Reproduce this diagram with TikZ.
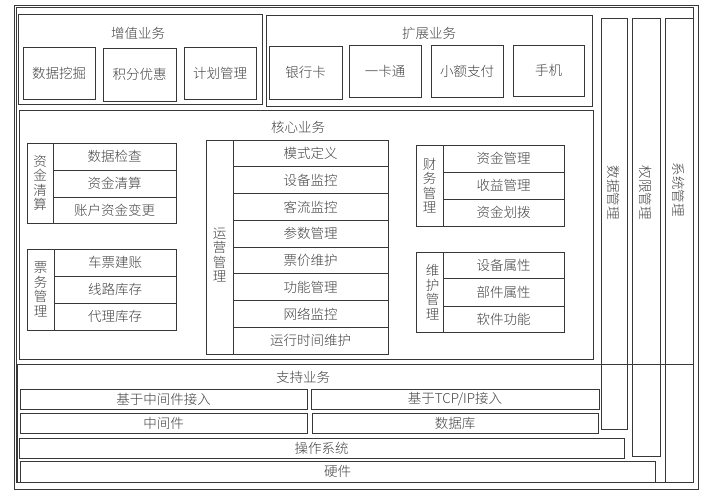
\documentclass[tikz,border=0pt]{standalone}
\usepackage{fontspec}
\newfontfamily\cjk{Noto Sans CJK SC Light}
\tikzset{
  box/.style={draw=black!78,line width=0.9pt,inner sep=0pt,outer sep=0pt,align=center,
    font=\cjk\fontsize{13.5}{15}\selectfont,text=black!75},
  vlab/.style={inner sep=0pt,align=center,font=\cjk\fontsize{13.5}{14.5}\selectfont,text=black!75},
  ttl/.style={inner sep=0pt,font=\cjk\fontsize{13.5}{15}\selectfont,text=black!75}
}
\newcommand\bx[6]{\node[box,minimum width={#4-#2},minimum height={#5-#3}] (#1) at ({(#2+#4)/2},{(#3+#5)/2}) {#6};}
\begin{document}
\begin{tikzpicture}[x=1pt,y=-1pt]
\useasboundingbox (0,0) rectangle (722,497);
% frames
\bx{outer}{14}{5}{698}{489}{}
\bx{inner}{16}{7}{693}{482}{}
% value-added
\bx{zz}{18}{14}{262}{104}{}
\node[ttl] (zzt) at (138,33) {增值业务};
\bx{wj}{23}{47}{95}{99}{数据挖掘}
\bx{jf}{103}{48}{176}{101}{积分优惠}
\bx{jh}{184}{47}{256}{99}{计划管理}
% extension
\bx{kz}{266}{15}{592}{106}{}
\node[ttl] (kzt) at (429,33) {扩展业务};
\bx{yhk}{269}{46}{342}{99}{银行卡}
\bx{ykt}{349}{45}{421}{97}{一卡通}
\bx{xe}{431}{45}{503}{97}{小额支付}
\bx{sj}{513}{45}{584}{96}{手机}
% core
\bx{core}{19}{110}{593}{359}{}
\node[ttl] (coret) at (298,127) {核心业务};
% 资金清算
\bx{zjqs}{27}{143}{53}{223}{}
\node[vlab] at (zjqs.center) {资\\金\\清\\算};
\bx{z1}{53}{143}{176}{170}{数据检查}
\bx{z2}{53}{170}{176}{197}{资金清算}
\bx{z3}{53}{197}{176}{223}{账户资金变更}
% 票务管理
\bx{pw}{27}{249}{54}{330}{}
\node[vlab] at (pw.center) {票\\务\\管\\理};
\bx{p1}{54}{249}{176}{276}{车票建账}
\bx{p2}{54}{276}{176}{303}{线路库存}
\bx{p3}{54}{303}{176}{330}{代理库存}
% 运营管理
\bx{yy}{206}{140}{233}{354}{}
\node[vlab] at ([yshift=-8pt]yy.center) {运\\营\\管\\理};
\bx{y1}{233}{140}{388}{166.75}{模式定义}
\bx{y2}{233}{166.75}{388}{193.5}{设备监控}
\bx{y3}{233}{193.5}{388}{220.25}{客流监控}
\bx{y4}{233}{220.25}{388}{247}{参数管理}
\bx{y5}{233}{247}{388}{273.75}{票价维护}
\bx{y6}{233}{273.75}{388}{300.5}{功能管理}
\bx{y7}{233}{300.5}{388}{327.25}{网络监控}
\bx{y8}{233}{327.25}{388}{354}{运行时间维护}
% 财务管理
\bx{cw}{416}{145}{443}{226}{}
\node[vlab] at (cw.center) {财\\务\\管\\理};
\bx{c1}{443}{145}{564}{172}{资金管理}
\bx{c2}{443}{172}{564}{199}{收益管理}
\bx{c3}{443}{199}{564}{226}{资金划拨}
% 维护管理
\bx{wh}{416}{252}{443}{332}{}
\node[vlab] at ([xshift=3pt]wh.center) {维\\护\\管\\理};
\bx{w1}{443}{252}{564}{278}{设备属性}
\bx{w2}{443}{278}{564}{306}{部件属性}
\bx{w3}{443}{306}{564}{332}{软件功能}
% support
\bx{sup}{17}{364}{693}{482}{}
\node[ttl] (supt) at (303,377) {支持业务};
\bx{s1}{20}{389}{307}{409}{基于中间件接入}
\bx{s2}{20}{413}{307}{433}{中间件}
\bx{s3}{311}{389}{599}{409}{基于TCP/IP接入}
\bx{s4}{312}{413}{598}{433}{数据库}
\bx{s5}{19}{438}{624}{458}{操作系统}
\bx{s6}{20}{461}{655}{482}{硬件}
% vertical management columns
\bx{sjgl}{601}{18}{627}{429}{}
\node[vlab,rotate=-90] at (sjgl.center |- 0,193) {数据管理};
\bx{qxgl}{632}{18}{660}{456}{}
\node[vlab,rotate=-90] at (qxgl.center |- 0,193) {权限管理};
\bx{xtgl}{665}{18}{693}{482}{}
\node[vlab,rotate=-90] at (xtgl.center |- 0,190) {系统管理};
\end{tikzpicture}
\end{document}
